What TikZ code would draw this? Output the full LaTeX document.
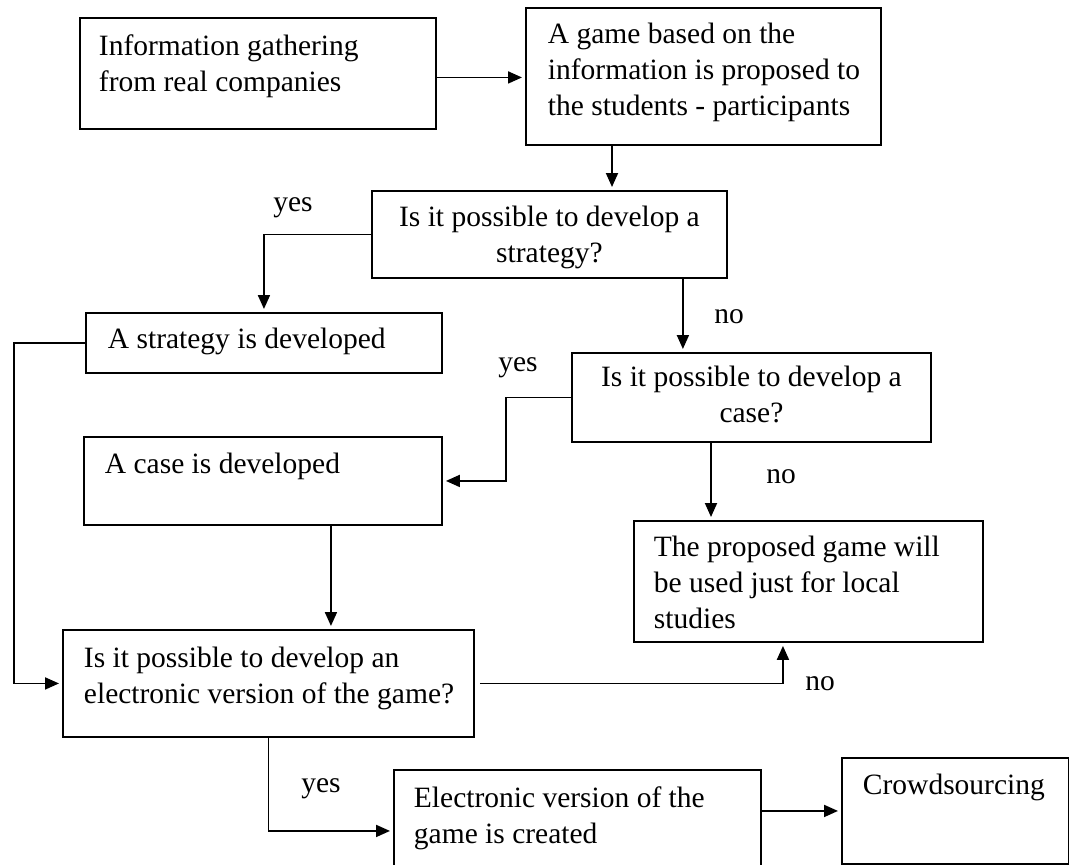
\documentclass[tikz,border=0pt]{standalone}
\usepackage{fontspec}
\setmainfont{Liberation Serif}
\usetikzlibrary{positioning,calc,arrows.meta}

% box text: width, height, left pad, top pad, text
\newcommand{\lefttext}[5]{\parbox[c][#2pt][t]{#1pt}{\vspace*{#4pt}\leftskip=#3pt\rightskip=0pt plus 1fil\strut #5}}
\newcommand{\midtext}[4]{\parbox[c][#2pt][t]{#1pt}{\vspace*{#3pt}\centering\strut #4}}

\begin{document}
\begin{tikzpicture}[x=1pt,y=-1pt,
  block/.style={draw,line width=1.9pt,inner sep=0pt,anchor=north west,
    font=\fontsize{29.5}{36}\selectfont},
  lbl/.style={anchor=base,inner sep=0pt,font=\fontsize{29.5}{36}\selectfont},
  flow/.style={line width=1.9pt,-{Triangle[length=14pt,width=12pt]},shorten >=3pt}]
\useasboundingbox (0,0) rectangle (1069,865);

\node[block] (info) at (79,17) {\lefttext{356}{111}{19}{12.8}{Information gathering\\from real companies}};
\node[block] (game) at (525,7) {\lefttext{355}{137}{22}{10.8}{A game based on the\\information is proposed to\\the students - participants}};
\node[block] (strategyq) at (371,190) {\midtext{355}{87}{10.8}{Is it possible to develop a\\strategy?}};
\node[block] (strategy) at (85,312) {\lefttext{356}{60}{22}{10.8}{A strategy is developed}};
\node[block] (caseq) at (571,352) {\midtext{359}{89}{8.8}{Is it possible to develop a\\case?}};
\node[block] (case) at (83,436) {\lefttext{358}{88}{21}{11.8}{A case is developed}};
\node[block] (local) at (633,520) {\lefttext{349}{121}{20}{10.8}{The proposed game will\\be used just for local\\studies}};
\node[block] (electq) at (62,629) {\lefttext{411}{107}{21}{12.8}{Is it possible to develop an\\electronic version of the game?}};
\node[block] (elect) at (393,769) {\lefttext{367}{122}{20}{12.8}{Electronic version of the\\game is created}};
\node[block] (crowd) at (841,757) {\lefttext{227}{106}{21}{11.8}{Crowdsourcing}};

% yes / no
\node[lbl] (yes1) at (293,211) {yes};
\node[lbl] (no1) at (729,323) {no};
\node[lbl] (yes2) at (518,371) {yes};
\node[lbl] (no2) at (781,483) {no};
\node[lbl] (no3) at (820,690) {no};
\node[lbl] (yes3) at (321,792) {yes};

\coordinate (i1) at ([yshift=-4pt]info.east);
\coordinate (g1) at ([xshift=87pt]game.south west);
\coordinate (s1) at ([xshift=-45pt]strategyq.south east);
\coordinate (c1) at ([xshift=140pt]caseq.south west);
\coordinate (c2) at ([xshift=68pt]case.south);
\coordinate (l1) at ([xshift=-25.5pt]local.south);

\draw[flow] (i1) -- (i1 -| game.west);
\draw[flow] (g1) -- (g1 |- strategyq.north);
\draw[flow] (strategyq.west) -| (strategy.north);
\draw[flow] (s1) -- (s1 |- caseq.north);
\draw[flow] (caseq.west) -- ++(-65,0) |- (case.east);
\draw[flow] (c1) -- (c1 |- local.north);
\draw[flow] (strategy.west) -- ++(-71,0) |- (electq.west);
\draw[flow] (c2) -- (c2 |- electq.north);
\draw[flow] ([xshift=5pt]electq.east) -| (l1);
\draw[flow] (electq.south) |- (elect.west);
\draw[flow] (elect.east |- crowd.west) -- (crowd.west);

\end{tikzpicture}
\end{document}
